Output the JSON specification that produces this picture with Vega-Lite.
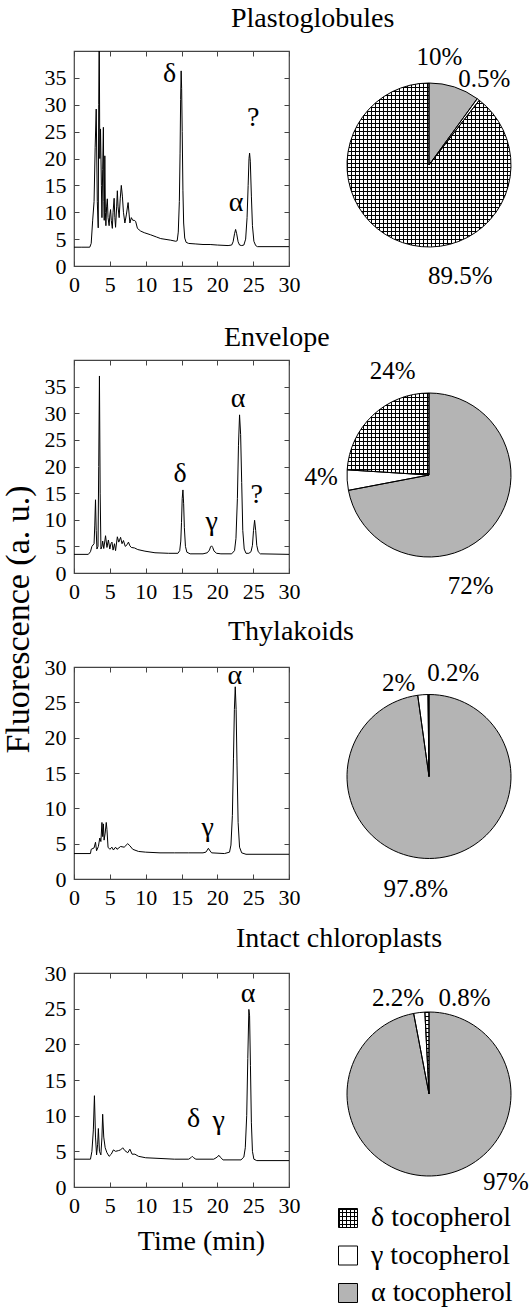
{
"$schema": "https://vega.github.io/schema/vega-lite/v6.json",
"padding": {"left": 0, "top": 3, "right": 0, "bottom": 0},
"background": "white",
"config": {
  "font": "Liberation Serif",
  "title": {"fontSize": 28, "fontWeight": "normal", "color": "#000", "anchor": "start", "frame": "group", "baseline": "alphabetic", "font": "Liberation Serif"},
  "axis": {"domain": false, "grid": false, "tickSize": -5, "tickColor": "#444", "tickWidth": 1, "labelFontSize": 22, "labelFont": "Liberation Serif", "titleFont": "Liberation Serif", "labelColor": "#000", "labelPadding": 13, "labelFlush": false, "labelOverlap": false, "titleFontWeight": "normal", "titleColor": "#000"},
  "text": {"color": "#000", "font": "Liberation Serif"}
},
"columns": 2,
"spacing": {"row": 94, "column": 58},
"bounds": "flush",
"concat": [
 {
  "width": 215, "height": 215,
  "title": {"text": "Plastoglobules", "dx": 157, "offset": 18},
  "view": {"stroke": "#444", "strokeWidth": 1.2},
  "layer": [
   {"data": {"values": [{"t":0,"v":3.5},{"t":1,"v":3.5},{"t":2.2,"v":3.5},{"t":2.4,"v":4.2},{"t":2.6,"v":8.4},{"t":2.8,"v":12},{"t":2.95,"v":22},{"t":3.1,"v":29.2},{"t":3.25,"v":12},{"t":3.38,"v":7.1},{"t":3.45,"v":30},{"t":3.52,"v":45},{"t":3.6,"v":20},{"t":3.7,"v":25.5},{"t":3.82,"v":15},{"t":3.9,"v":9},{"t":4,"v":18},{"t":4.1,"v":25.8},{"t":4.17,"v":12},{"t":4.22,"v":8.5},{"t":4.3,"v":20.5},{"t":4.38,"v":10},{"t":4.45,"v":7.5},{"t":4.55,"v":11},{"t":4.65,"v":12.5},{"t":4.75,"v":9},{"t":4.9,"v":7.5},{"t":5,"v":9.5},{"t":5.1,"v":10.5},{"t":5.2,"v":8.5},{"t":5.35,"v":7},{"t":5.45,"v":10},{"t":5.6,"v":12.6},{"t":5.7,"v":9},{"t":5.8,"v":7.2},{"t":5.95,"v":11},{"t":6.05,"v":14},{"t":6.15,"v":11},{"t":6.3,"v":9},{"t":6.45,"v":12.5},{"t":6.6,"v":15},{"t":6.75,"v":13},{"t":6.9,"v":10},{"t":7.1,"v":8},{"t":7.3,"v":9.5},{"t":7.55,"v":11.8},{"t":7.7,"v":9.5},{"t":7.8,"v":8},{"t":8,"v":9},{"t":8.2,"v":8.5},{"t":8.4,"v":8.5},{"t":8.6,"v":8.3},{"t":8.85,"v":7},{"t":9.3,"v":6.5},{"t":9.8,"v":6.2},{"t":10.7,"v":5.8},{"t":11.5,"v":5.4},{"t":12.1,"v":5.1},{"t":13.5,"v":4.8},{"t":14.2,"v":4.6},{"t":14.4,"v":4.7},{"t":14.55,"v":6.3},{"t":14.7,"v":12},{"t":14.8,"v":21},{"t":14.88,"v":31},{"t":14.95,"v":36.3},{"t":15.02,"v":33},{"t":15.1,"v":25},{"t":15.2,"v":14},{"t":15.3,"v":8},{"t":15.45,"v":5.2},{"t":15.65,"v":4.4},{"t":16,"v":4.2},{"t":17,"v":4.1},{"t":18,"v":4},{"t":19,"v":4},{"t":20,"v":3.9},{"t":21.5,"v":3.8},{"t":22,"v":3.9},{"t":22.2,"v":4.5},{"t":22.4,"v":6},{"t":22.55,"v":6.8},{"t":22.7,"v":6},{"t":22.9,"v":4.5},{"t":23.1,"v":3.9},{"t":23.4,"v":3.8},{"t":23.7,"v":3.9},{"t":23.95,"v":5},{"t":24.15,"v":9},{"t":24.3,"v":15},{"t":24.42,"v":20},{"t":24.5,"v":21},{"t":24.6,"v":19.5},{"t":24.75,"v":13},{"t":24.9,"v":7.5},{"t":25.1,"v":4.6},{"t":25.35,"v":3.8},{"t":25.6,"v":3.6},{"t":30,"v":3.6}]},
    "mark": {"type": "line", "color": "#000", "strokeWidth": 1, "clip": true},
    "encoding": {
     "x": {"field": "t", "type": "quantitative", "scale": {"domain": [0, 30], "nice": false, "zero": false}, "axis": {"values": [0,5,10,15,20,25,30], "title": null}},
     "y": {"field": "v", "type": "quantitative", "scale": {"domain": [0, 40], "nice": false, "zero": false}, "axis": {"values": [0,5,10,15,20,25,30,35], "title": null}}
    }},
   {"data": {"values": [{"t":13.35,"v":35.7,"g":"δ"},{"t":22.6,"v":11.8,"g":"α"},{"t":25.0,"v":27.5,"g":"?"}]},
    "mark": {"type": "text", "fontSize": 28, "baseline": "middle", "align": "center"},
    "encoding": {"x": {"field": "t", "type": "quantitative", "axis": null}, "y": {"field": "v", "type": "quantitative", "axis": null}, "text": {"field": "g"}}},
   {"data": {"values": [{"t":13.35,"v":35.7}]},
    "mark": {"type": "point", "opacity": 0},
    "encoding": {"x": {"field": "t", "type": "quantitative", "axis": {"orient": "top", "labels": false, "values": [0,5,10,15,20,25,30], "title": null}}, "y": {"field": "v", "type": "quantitative", "axis": {"orient": "right", "labels": false, "values": [0,5,10,15,20,25,30,35], "title": null}}}}
  ],
  "resolve": {"axis": {"x": "independent", "y": "independent"}}
 },
 {
  "width": 164, "height": 215,
  "view": {"stroke": null},
  "data": {"values": [{"type":"α","k":1,"pct":10,"label":"10%"},{"type":"γ","k":2,"pct":0.5,"label":"0.5%"},{"type":"δ","k":3,"pct":89.5,"label":"89.5%"}]},
  "encoding": {"theta": {"field": "pct", "type": "quantitative", "stack": true, "scale": {"domain": [0, 100]}}, "order": {"field": "k", "type": "quantitative"}},
  "layer": [
   {"mark": {"type": "arc", "outerRadius": 82, "yOffset": 6.5},
    "encoding": {"fill": {"condition": [{"test": "datum.type === 'δ'", "value": {"gradient":"linear","x1":0,"y1":0,"x2":1,"y2":0,"stops":[{"offset":0,"color":"#000"},{"offset":0.0061,"color":"#000"},{"offset":0.0061,"color":"#fff"},{"offset":0.02439,"color":"#fff"},{"offset":0.02439,"color":"#000"},{"offset":0.03049,"color":"#000"},{"offset":0.03049,"color":"#fff"},{"offset":0.04878,"color":"#fff"},{"offset":0.04878,"color":"#000"},{"offset":0.05488,"color":"#000"},{"offset":0.05488,"color":"#fff"},{"offset":0.07317,"color":"#fff"},{"offset":0.07317,"color":"#000"},{"offset":0.07927,"color":"#000"},{"offset":0.07927,"color":"#fff"},{"offset":0.09756,"color":"#fff"},{"offset":0.09756,"color":"#000"},{"offset":0.10366,"color":"#000"},{"offset":0.10366,"color":"#fff"},{"offset":0.12195,"color":"#fff"},{"offset":0.12195,"color":"#000"},{"offset":0.12805,"color":"#000"},{"offset":0.12805,"color":"#fff"},{"offset":0.14634,"color":"#fff"},{"offset":0.14634,"color":"#000"},{"offset":0.15244,"color":"#000"},{"offset":0.15244,"color":"#fff"},{"offset":0.17073,"color":"#fff"},{"offset":0.17073,"color":"#000"},{"offset":0.17683,"color":"#000"},{"offset":0.17683,"color":"#fff"},{"offset":0.19512,"color":"#fff"},{"offset":0.19512,"color":"#000"},{"offset":0.20122,"color":"#000"},{"offset":0.20122,"color":"#fff"},{"offset":0.21951,"color":"#fff"},{"offset":0.21951,"color":"#000"},{"offset":0.22561,"color":"#000"},{"offset":0.22561,"color":"#fff"},{"offset":0.2439,"color":"#fff"},{"offset":0.2439,"color":"#000"},{"offset":0.25,"color":"#000"},{"offset":0.25,"color":"#fff"},{"offset":0.26829,"color":"#fff"},{"offset":0.26829,"color":"#000"},{"offset":0.27439,"color":"#000"},{"offset":0.27439,"color":"#fff"},{"offset":0.29268,"color":"#fff"},{"offset":0.29268,"color":"#000"},{"offset":0.29878,"color":"#000"},{"offset":0.29878,"color":"#fff"},{"offset":0.31707,"color":"#fff"},{"offset":0.31707,"color":"#000"},{"offset":0.32317,"color":"#000"},{"offset":0.32317,"color":"#fff"},{"offset":0.34146,"color":"#fff"},{"offset":0.34146,"color":"#000"},{"offset":0.34756,"color":"#000"},{"offset":0.34756,"color":"#fff"},{"offset":0.36585,"color":"#fff"},{"offset":0.36585,"color":"#000"},{"offset":0.37195,"color":"#000"},{"offset":0.37195,"color":"#fff"},{"offset":0.39024,"color":"#fff"},{"offset":0.39024,"color":"#000"},{"offset":0.39634,"color":"#000"},{"offset":0.39634,"color":"#fff"},{"offset":0.41463,"color":"#fff"},{"offset":0.41463,"color":"#000"},{"offset":0.42073,"color":"#000"},{"offset":0.42073,"color":"#fff"},{"offset":0.43902,"color":"#fff"},{"offset":0.43902,"color":"#000"},{"offset":0.44512,"color":"#000"},{"offset":0.44512,"color":"#fff"},{"offset":0.46341,"color":"#fff"},{"offset":0.46341,"color":"#000"},{"offset":0.46951,"color":"#000"},{"offset":0.46951,"color":"#fff"},{"offset":0.4878,"color":"#fff"},{"offset":0.4878,"color":"#000"},{"offset":0.4939,"color":"#000"},{"offset":0.4939,"color":"#fff"},{"offset":0.5122,"color":"#fff"},{"offset":0.5122,"color":"#000"},{"offset":0.5183,"color":"#000"},{"offset":0.5183,"color":"#fff"},{"offset":0.53659,"color":"#fff"},{"offset":0.53659,"color":"#000"},{"offset":0.54268,"color":"#000"},{"offset":0.54268,"color":"#fff"},{"offset":0.56098,"color":"#fff"},{"offset":0.56098,"color":"#000"},{"offset":0.56707,"color":"#000"},{"offset":0.56707,"color":"#fff"},{"offset":0.58537,"color":"#fff"},{"offset":0.58537,"color":"#000"},{"offset":0.59146,"color":"#000"},{"offset":0.59146,"color":"#fff"},{"offset":0.60976,"color":"#fff"},{"offset":0.60976,"color":"#000"},{"offset":0.61585,"color":"#000"},{"offset":0.61585,"color":"#fff"},{"offset":0.63415,"color":"#fff"},{"offset":0.63415,"color":"#000"},{"offset":0.64024,"color":"#000"},{"offset":0.64024,"color":"#fff"},{"offset":0.65854,"color":"#fff"},{"offset":0.65854,"color":"#000"},{"offset":0.66463,"color":"#000"},{"offset":0.66463,"color":"#fff"},{"offset":0.68293,"color":"#fff"},{"offset":0.68293,"color":"#000"},{"offset":0.68902,"color":"#000"},{"offset":0.68902,"color":"#fff"},{"offset":0.70732,"color":"#fff"},{"offset":0.70732,"color":"#000"},{"offset":0.71341,"color":"#000"},{"offset":0.71341,"color":"#fff"},{"offset":0.73171,"color":"#fff"},{"offset":0.73171,"color":"#000"},{"offset":0.7378,"color":"#000"},{"offset":0.7378,"color":"#fff"},{"offset":0.7561,"color":"#fff"},{"offset":0.7561,"color":"#000"},{"offset":0.7622,"color":"#000"},{"offset":0.7622,"color":"#fff"},{"offset":0.78049,"color":"#fff"},{"offset":0.78049,"color":"#000"},{"offset":0.78659,"color":"#000"},{"offset":0.78659,"color":"#fff"},{"offset":0.80488,"color":"#fff"},{"offset":0.80488,"color":"#000"},{"offset":0.81098,"color":"#000"},{"offset":0.81098,"color":"#fff"},{"offset":0.82927,"color":"#fff"},{"offset":0.82927,"color":"#000"},{"offset":0.83537,"color":"#000"},{"offset":0.83537,"color":"#fff"},{"offset":0.85366,"color":"#fff"},{"offset":0.85366,"color":"#000"},{"offset":0.85976,"color":"#000"},{"offset":0.85976,"color":"#fff"},{"offset":0.87805,"color":"#fff"},{"offset":0.87805,"color":"#000"},{"offset":0.88415,"color":"#000"},{"offset":0.88415,"color":"#fff"},{"offset":0.90244,"color":"#fff"},{"offset":0.90244,"color":"#000"},{"offset":0.90854,"color":"#000"},{"offset":0.90854,"color":"#fff"},{"offset":0.92683,"color":"#fff"},{"offset":0.92683,"color":"#000"},{"offset":0.93293,"color":"#000"},{"offset":0.93293,"color":"#fff"},{"offset":0.95122,"color":"#fff"},{"offset":0.95122,"color":"#000"},{"offset":0.95732,"color":"#000"},{"offset":0.95732,"color":"#fff"},{"offset":0.97561,"color":"#fff"},{"offset":0.97561,"color":"#000"},{"offset":0.98171,"color":"#000"},{"offset":0.98171,"color":"#fff"},{"offset":1,"color":"#fff"}]}}, {"test": "datum.type === 'γ'", "value": "#ffffff"}], "value": "#b4b4b4"}}},
   {"mark": {"type": "arc", "outerRadius": 82, "yOffset": 6.5, "stroke": "#000", "strokeWidth": 1},
    "encoding": {"fill": {"condition": {"test": "datum.type === 'δ'", "value": {"gradient":"linear","x1":0,"y1":0,"x2":0,"y2":1,"stops":[{"offset":0,"color":"#000"},{"offset":0.0061,"color":"#000"},{"offset":0.0061,"color":"transparent"},{"offset":0.02439,"color":"transparent"},{"offset":0.02439,"color":"#000"},{"offset":0.03049,"color":"#000"},{"offset":0.03049,"color":"transparent"},{"offset":0.04878,"color":"transparent"},{"offset":0.04878,"color":"#000"},{"offset":0.05488,"color":"#000"},{"offset":0.05488,"color":"transparent"},{"offset":0.07317,"color":"transparent"},{"offset":0.07317,"color":"#000"},{"offset":0.07927,"color":"#000"},{"offset":0.07927,"color":"transparent"},{"offset":0.09756,"color":"transparent"},{"offset":0.09756,"color":"#000"},{"offset":0.10366,"color":"#000"},{"offset":0.10366,"color":"transparent"},{"offset":0.12195,"color":"transparent"},{"offset":0.12195,"color":"#000"},{"offset":0.12805,"color":"#000"},{"offset":0.12805,"color":"transparent"},{"offset":0.14634,"color":"transparent"},{"offset":0.14634,"color":"#000"},{"offset":0.15244,"color":"#000"},{"offset":0.15244,"color":"transparent"},{"offset":0.17073,"color":"transparent"},{"offset":0.17073,"color":"#000"},{"offset":0.17683,"color":"#000"},{"offset":0.17683,"color":"transparent"},{"offset":0.19512,"color":"transparent"},{"offset":0.19512,"color":"#000"},{"offset":0.20122,"color":"#000"},{"offset":0.20122,"color":"transparent"},{"offset":0.21951,"color":"transparent"},{"offset":0.21951,"color":"#000"},{"offset":0.22561,"color":"#000"},{"offset":0.22561,"color":"transparent"},{"offset":0.2439,"color":"transparent"},{"offset":0.2439,"color":"#000"},{"offset":0.25,"color":"#000"},{"offset":0.25,"color":"transparent"},{"offset":0.26829,"color":"transparent"},{"offset":0.26829,"color":"#000"},{"offset":0.27439,"color":"#000"},{"offset":0.27439,"color":"transparent"},{"offset":0.29268,"color":"transparent"},{"offset":0.29268,"color":"#000"},{"offset":0.29878,"color":"#000"},{"offset":0.29878,"color":"transparent"},{"offset":0.31707,"color":"transparent"},{"offset":0.31707,"color":"#000"},{"offset":0.32317,"color":"#000"},{"offset":0.32317,"color":"transparent"},{"offset":0.34146,"color":"transparent"},{"offset":0.34146,"color":"#000"},{"offset":0.34756,"color":"#000"},{"offset":0.34756,"color":"transparent"},{"offset":0.36585,"color":"transparent"},{"offset":0.36585,"color":"#000"},{"offset":0.37195,"color":"#000"},{"offset":0.37195,"color":"transparent"},{"offset":0.39024,"color":"transparent"},{"offset":0.39024,"color":"#000"},{"offset":0.39634,"color":"#000"},{"offset":0.39634,"color":"transparent"},{"offset":0.41463,"color":"transparent"},{"offset":0.41463,"color":"#000"},{"offset":0.42073,"color":"#000"},{"offset":0.42073,"color":"transparent"},{"offset":0.43902,"color":"transparent"},{"offset":0.43902,"color":"#000"},{"offset":0.44512,"color":"#000"},{"offset":0.44512,"color":"transparent"},{"offset":0.46341,"color":"transparent"},{"offset":0.46341,"color":"#000"},{"offset":0.46951,"color":"#000"},{"offset":0.46951,"color":"transparent"},{"offset":0.4878,"color":"transparent"},{"offset":0.4878,"color":"#000"},{"offset":0.4939,"color":"#000"},{"offset":0.4939,"color":"transparent"},{"offset":0.5122,"color":"transparent"},{"offset":0.5122,"color":"#000"},{"offset":0.5183,"color":"#000"},{"offset":0.5183,"color":"transparent"},{"offset":0.53659,"color":"transparent"},{"offset":0.53659,"color":"#000"},{"offset":0.54268,"color":"#000"},{"offset":0.54268,"color":"transparent"},{"offset":0.56098,"color":"transparent"},{"offset":0.56098,"color":"#000"},{"offset":0.56707,"color":"#000"},{"offset":0.56707,"color":"transparent"},{"offset":0.58537,"color":"transparent"},{"offset":0.58537,"color":"#000"},{"offset":0.59146,"color":"#000"},{"offset":0.59146,"color":"transparent"},{"offset":0.60976,"color":"transparent"},{"offset":0.60976,"color":"#000"},{"offset":0.61585,"color":"#000"},{"offset":0.61585,"color":"transparent"},{"offset":0.63415,"color":"transparent"},{"offset":0.63415,"color":"#000"},{"offset":0.64024,"color":"#000"},{"offset":0.64024,"color":"transparent"},{"offset":0.65854,"color":"transparent"},{"offset":0.65854,"color":"#000"},{"offset":0.66463,"color":"#000"},{"offset":0.66463,"color":"transparent"},{"offset":0.68293,"color":"transparent"},{"offset":0.68293,"color":"#000"},{"offset":0.68902,"color":"#000"},{"offset":0.68902,"color":"transparent"},{"offset":0.70732,"color":"transparent"},{"offset":0.70732,"color":"#000"},{"offset":0.71341,"color":"#000"},{"offset":0.71341,"color":"transparent"},{"offset":0.73171,"color":"transparent"},{"offset":0.73171,"color":"#000"},{"offset":0.7378,"color":"#000"},{"offset":0.7378,"color":"transparent"},{"offset":0.7561,"color":"transparent"},{"offset":0.7561,"color":"#000"},{"offset":0.7622,"color":"#000"},{"offset":0.7622,"color":"transparent"},{"offset":0.78049,"color":"transparent"},{"offset":0.78049,"color":"#000"},{"offset":0.78659,"color":"#000"},{"offset":0.78659,"color":"transparent"},{"offset":0.80488,"color":"transparent"},{"offset":0.80488,"color":"#000"},{"offset":0.81098,"color":"#000"},{"offset":0.81098,"color":"transparent"},{"offset":0.82927,"color":"transparent"},{"offset":0.82927,"color":"#000"},{"offset":0.83537,"color":"#000"},{"offset":0.83537,"color":"transparent"},{"offset":0.85366,"color":"transparent"},{"offset":0.85366,"color":"#000"},{"offset":0.85976,"color":"#000"},{"offset":0.85976,"color":"transparent"},{"offset":0.87805,"color":"transparent"},{"offset":0.87805,"color":"#000"},{"offset":0.88415,"color":"#000"},{"offset":0.88415,"color":"transparent"},{"offset":0.90244,"color":"transparent"},{"offset":0.90244,"color":"#000"},{"offset":0.90854,"color":"#000"},{"offset":0.90854,"color":"transparent"},{"offset":0.92683,"color":"transparent"},{"offset":0.92683,"color":"#000"},{"offset":0.93293,"color":"#000"},{"offset":0.93293,"color":"transparent"},{"offset":0.95122,"color":"transparent"},{"offset":0.95122,"color":"#000"},{"offset":0.95732,"color":"#000"},{"offset":0.95732,"color":"transparent"},{"offset":0.97561,"color":"transparent"},{"offset":0.97561,"color":"#000"},{"offset":0.98171,"color":"#000"},{"offset":0.98171,"color":"transparent"},{"offset":1,"color":"transparent"}]}}, "value": "transparent"}}},
   {"mark": {"type": "text", "radius": 108, "dx": -23, "dy": 1.5, "fontSize": 25, "baseline": "middle", "align": "center"}, "encoding": {"text": {"condition": {"test": "datum.type === 'α'", "field": "label"}, "value": ""}}},
   {"mark": {"type": "text", "radius": 102, "dx": -6, "dy": 2.5, "fontSize": 25, "baseline": "middle", "align": "center"}, "encoding": {"text": {"condition": {"test": "datum.type === 'γ'", "field": "label"}, "value": ""}}},
   {"mark": {"type": "text", "radius": 113, "dx": 68, "dy": 10.5, "fontSize": 25, "baseline": "middle", "align": "center"}, "encoding": {"text": {"condition": {"test": "datum.type === 'δ'", "field": "label"}, "value": ""}}}
  ]
 },
 {
  "width": 215, "height": 213,
  "title": {"text": "Envelope", "dx": 150, "offset": 8},
  "view": {"stroke": "#444", "strokeWidth": 1.2},
  "layer": [
   {"data": {"values": [{"t":0,"v":3.5},{"t":2,"v":3.5},{"t":2.3,"v":4},{"t":2.5,"v":5},{"t":2.8,"v":5.5},{"t":2.9,"v":9},{"t":3,"v":13.75},{"t":3.1,"v":8},{"t":3.2,"v":4.5},{"t":3.35,"v":5},{"t":3.45,"v":20},{"t":3.55,"v":37},{"t":3.65,"v":15},{"t":3.76,"v":4.5},{"t":3.9,"v":5},{"t":4,"v":6},{"t":4.15,"v":4.6},{"t":4.3,"v":6},{"t":4.4,"v":7},{"t":4.6,"v":4.8},{"t":4.8,"v":6.2},{"t":5,"v":4.5},{"t":5.15,"v":5.5},{"t":5.3,"v":5.8},{"t":5.45,"v":4.3},{"t":5.65,"v":5.5},{"t":5.8,"v":4.2},{"t":6.05,"v":6.8},{"t":6.25,"v":5.8},{"t":6.5,"v":6.7},{"t":6.7,"v":5.5},{"t":6.9,"v":6.1},{"t":7.15,"v":5},{"t":7.4,"v":5.3},{"t":7.6,"v":5.8},{"t":7.8,"v":5.1},{"t":8,"v":4.8},{"t":8.45,"v":4.7},{"t":8.9,"v":4.4},{"t":9.9,"v":4.1},{"t":11.3,"v":3.8},{"t":13.2,"v":3.7},{"t":14.5,"v":3.7},{"t":14.75,"v":4.2},{"t":14.9,"v":6},{"t":15,"v":9.5},{"t":15.1,"v":14},{"t":15.2,"v":15.6},{"t":15.3,"v":13},{"t":15.4,"v":8.5},{"t":15.55,"v":5},{"t":15.75,"v":3.9},{"t":16.2,"v":3.6},{"t":18,"v":3.6},{"t":18.6,"v":3.8},{"t":18.9,"v":4.3},{"t":19.05,"v":4.9},{"t":19.2,"v":5.1},{"t":19.35,"v":4.8},{"t":19.55,"v":4.1},{"t":19.9,"v":3.7},{"t":20.5,"v":3.6},{"t":22,"v":3.6},{"t":22.4,"v":4.2},{"t":22.6,"v":6.5},{"t":22.8,"v":14},{"t":22.95,"v":24},{"t":23.1,"v":29.7},{"t":23.25,"v":26},{"t":23.4,"v":17},{"t":23.55,"v":8},{"t":23.75,"v":4.5},{"t":24,"v":3.7},{"t":24.4,"v":3.7},{"t":24.7,"v":4},{"t":24.9,"v":5.2},{"t":25.05,"v":8},{"t":25.2,"v":9.9},{"t":25.35,"v":8},{"t":25.5,"v":5.2},{"t":25.7,"v":4},{"t":26,"v":3.6},{"t":30,"v":3.5}]},
    "mark": {"type": "line", "color": "#000", "strokeWidth": 1, "clip": true},
    "encoding": {
     "x": {"field": "t", "type": "quantitative", "scale": {"domain": [0, 30], "nice": false, "zero": false}, "axis": {"values": [0,5,10,15,20,25,30], "title": null}},
     "y": {"field": "v", "type": "quantitative", "scale": {"domain": [0, 40], "nice": false, "zero": false}, "axis": {"values": [0,5,10,15,20,25,30,35], "title": "Fluorescence (a. u.)", "titleFontSize": 34, "titleX": -56, "titleY": 259, "titleAngle": -90, "titleAlign": "center", "titleBaseline": "middle"}}
    }},
   {"data": {"values": [{"t":22.9,"v":32.7,"g":"α"},{"t":14.8,"v":18.6,"g":"δ"},{"t":19.2,"v":9.6,"g":"γ"},{"t":25.5,"v":14.7,"g":"?"}]},
    "mark": {"type": "text", "fontSize": 28, "baseline": "middle", "align": "center"},
    "encoding": {"x": {"field": "t", "type": "quantitative", "axis": null}, "y": {"field": "v", "type": "quantitative", "axis": null}, "text": {"field": "g"}}},
   {"data": {"values": [{"t":22.9,"v":32.7}]},
    "mark": {"type": "point", "opacity": 0},
    "encoding": {"x": {"field": "t", "type": "quantitative", "axis": {"orient": "top", "labels": false, "values": [0,5,10,15,20,25,30], "title": null}}, "y": {"field": "v", "type": "quantitative", "axis": {"orient": "right", "labels": false, "values": [0,5,10,15,20,25,30,35], "title": null}}}}
  ],
  "resolve": {"axis": {"x": "independent", "y": "independent"}}
 },
 {
  "width": 164, "height": 213,
  "view": {"stroke": null},
  "data": {"values": [{"type":"α","k":1,"pct":72,"label":"72%"},{"type":"γ","k":2,"pct":4,"label":"4%"},{"type":"δ","k":3,"pct":24,"label":"24%"}]},
  "encoding": {"theta": {"field": "pct", "type": "quantitative", "stack": true, "scale": {"domain": [0, 100]}}, "order": {"field": "k", "type": "quantitative"}},
  "layer": [
   {"mark": {"type": "arc", "outerRadius": 82, "yOffset": 8.5},
    "encoding": {"fill": {"condition": [{"test": "datum.type === 'δ'", "value": {"gradient":"linear","x1":0,"y1":0,"x2":1,"y2":0,"stops":[{"offset":0,"color":"#000"},{"offset":0.0122,"color":"#000"},{"offset":0.0122,"color":"#fff"},{"offset":0.04878,"color":"#fff"},{"offset":0.04878,"color":"#000"},{"offset":0.06098,"color":"#000"},{"offset":0.06098,"color":"#fff"},{"offset":0.09756,"color":"#fff"},{"offset":0.09756,"color":"#000"},{"offset":0.10976,"color":"#000"},{"offset":0.10976,"color":"#fff"},{"offset":0.14634,"color":"#fff"},{"offset":0.14634,"color":"#000"},{"offset":0.15854,"color":"#000"},{"offset":0.15854,"color":"#fff"},{"offset":0.19512,"color":"#fff"},{"offset":0.19512,"color":"#000"},{"offset":0.20732,"color":"#000"},{"offset":0.20732,"color":"#fff"},{"offset":0.2439,"color":"#fff"},{"offset":0.2439,"color":"#000"},{"offset":0.2561,"color":"#000"},{"offset":0.2561,"color":"#fff"},{"offset":0.29268,"color":"#fff"},{"offset":0.29268,"color":"#000"},{"offset":0.30488,"color":"#000"},{"offset":0.30488,"color":"#fff"},{"offset":0.34146,"color":"#fff"},{"offset":0.34146,"color":"#000"},{"offset":0.35366,"color":"#000"},{"offset":0.35366,"color":"#fff"},{"offset":0.39024,"color":"#fff"},{"offset":0.39024,"color":"#000"},{"offset":0.40244,"color":"#000"},{"offset":0.40244,"color":"#fff"},{"offset":0.43902,"color":"#fff"},{"offset":0.43902,"color":"#000"},{"offset":0.45122,"color":"#000"},{"offset":0.45122,"color":"#fff"},{"offset":0.4878,"color":"#fff"},{"offset":0.4878,"color":"#000"},{"offset":0.5,"color":"#000"},{"offset":0.5,"color":"#fff"},{"offset":0.53659,"color":"#fff"},{"offset":0.53659,"color":"#000"},{"offset":0.54878,"color":"#000"},{"offset":0.54878,"color":"#fff"},{"offset":0.58537,"color":"#fff"},{"offset":0.58537,"color":"#000"},{"offset":0.59756,"color":"#000"},{"offset":0.59756,"color":"#fff"},{"offset":0.63415,"color":"#fff"},{"offset":0.63415,"color":"#000"},{"offset":0.64634,"color":"#000"},{"offset":0.64634,"color":"#fff"},{"offset":0.68293,"color":"#fff"},{"offset":0.68293,"color":"#000"},{"offset":0.69512,"color":"#000"},{"offset":0.69512,"color":"#fff"},{"offset":0.73171,"color":"#fff"},{"offset":0.73171,"color":"#000"},{"offset":0.7439,"color":"#000"},{"offset":0.7439,"color":"#fff"},{"offset":0.78049,"color":"#fff"},{"offset":0.78049,"color":"#000"},{"offset":0.79268,"color":"#000"},{"offset":0.79268,"color":"#fff"},{"offset":0.82927,"color":"#fff"},{"offset":0.82927,"color":"#000"},{"offset":0.84146,"color":"#000"},{"offset":0.84146,"color":"#fff"},{"offset":0.87805,"color":"#fff"},{"offset":0.87805,"color":"#000"},{"offset":0.89024,"color":"#000"},{"offset":0.89024,"color":"#fff"},{"offset":0.92683,"color":"#fff"},{"offset":0.92683,"color":"#000"},{"offset":0.93902,"color":"#000"},{"offset":0.93902,"color":"#fff"},{"offset":0.97561,"color":"#fff"},{"offset":0.97561,"color":"#000"},{"offset":0.9878,"color":"#000"},{"offset":0.9878,"color":"#fff"},{"offset":1,"color":"#fff"}]}}, {"test": "datum.type === 'γ'", "value": "#ffffff"}], "value": "#b4b4b4"}}},
   {"mark": {"type": "arc", "outerRadius": 82, "yOffset": 8.5, "stroke": "#000", "strokeWidth": 1},
    "encoding": {"fill": {"condition": {"test": "datum.type === 'δ'", "value": {"gradient":"linear","x1":0,"y1":0,"x2":0,"y2":1,"stops":[{"offset":0,"color":"#000"},{"offset":0.0122,"color":"#000"},{"offset":0.0122,"color":"transparent"},{"offset":0.04878,"color":"transparent"},{"offset":0.04878,"color":"#000"},{"offset":0.06098,"color":"#000"},{"offset":0.06098,"color":"transparent"},{"offset":0.09756,"color":"transparent"},{"offset":0.09756,"color":"#000"},{"offset":0.10976,"color":"#000"},{"offset":0.10976,"color":"transparent"},{"offset":0.14634,"color":"transparent"},{"offset":0.14634,"color":"#000"},{"offset":0.15854,"color":"#000"},{"offset":0.15854,"color":"transparent"},{"offset":0.19512,"color":"transparent"},{"offset":0.19512,"color":"#000"},{"offset":0.20732,"color":"#000"},{"offset":0.20732,"color":"transparent"},{"offset":0.2439,"color":"transparent"},{"offset":0.2439,"color":"#000"},{"offset":0.2561,"color":"#000"},{"offset":0.2561,"color":"transparent"},{"offset":0.29268,"color":"transparent"},{"offset":0.29268,"color":"#000"},{"offset":0.30488,"color":"#000"},{"offset":0.30488,"color":"transparent"},{"offset":0.34146,"color":"transparent"},{"offset":0.34146,"color":"#000"},{"offset":0.35366,"color":"#000"},{"offset":0.35366,"color":"transparent"},{"offset":0.39024,"color":"transparent"},{"offset":0.39024,"color":"#000"},{"offset":0.40244,"color":"#000"},{"offset":0.40244,"color":"transparent"},{"offset":0.43902,"color":"transparent"},{"offset":0.43902,"color":"#000"},{"offset":0.45122,"color":"#000"},{"offset":0.45122,"color":"transparent"},{"offset":0.4878,"color":"transparent"},{"offset":0.4878,"color":"#000"},{"offset":0.5,"color":"#000"},{"offset":0.5,"color":"transparent"},{"offset":0.53659,"color":"transparent"},{"offset":0.53659,"color":"#000"},{"offset":0.54878,"color":"#000"},{"offset":0.54878,"color":"transparent"},{"offset":0.58537,"color":"transparent"},{"offset":0.58537,"color":"#000"},{"offset":0.59756,"color":"#000"},{"offset":0.59756,"color":"transparent"},{"offset":0.63415,"color":"transparent"},{"offset":0.63415,"color":"#000"},{"offset":0.64634,"color":"#000"},{"offset":0.64634,"color":"transparent"},{"offset":0.68293,"color":"transparent"},{"offset":0.68293,"color":"#000"},{"offset":0.69512,"color":"#000"},{"offset":0.69512,"color":"transparent"},{"offset":0.73171,"color":"transparent"},{"offset":0.73171,"color":"#000"},{"offset":0.7439,"color":"#000"},{"offset":0.7439,"color":"transparent"},{"offset":0.78049,"color":"transparent"},{"offset":0.78049,"color":"#000"},{"offset":0.79268,"color":"#000"},{"offset":0.79268,"color":"transparent"},{"offset":0.82927,"color":"transparent"},{"offset":0.82927,"color":"#000"},{"offset":0.84146,"color":"#000"},{"offset":0.84146,"color":"transparent"},{"offset":0.87805,"color":"transparent"},{"offset":0.87805,"color":"#000"},{"offset":0.89024,"color":"#000"},{"offset":0.89024,"color":"transparent"},{"offset":0.92683,"color":"transparent"},{"offset":0.92683,"color":"#000"},{"offset":0.93902,"color":"#000"},{"offset":0.93902,"color":"transparent"},{"offset":0.97561,"color":"transparent"},{"offset":0.97561,"color":"#000"},{"offset":0.9878,"color":"#000"},{"offset":0.9878,"color":"transparent"},{"offset":1,"color":"transparent"}]}}, "value": "transparent"}}},
   {"mark": {"type": "text", "radius": 119, "dx": -50, "dy": 43.5, "fontSize": 25, "baseline": "middle", "align": "center"}, "encoding": {"text": {"condition": {"test": "datum.type === 'α'", "field": "label"}, "value": ""}}},
   {"mark": {"type": "text", "radius": 108, "dx": 0, "dy": 3.5, "fontSize": 25, "baseline": "middle", "align": "center"}, "encoding": {"text": {"condition": {"test": "datum.type === 'γ'", "field": "label"}, "value": ""}}},
   {"mark": {"type": "text", "radius": 110, "dx": 39, "dy": -15.5, "fontSize": 25, "baseline": "middle", "align": "center"}, "encoding": {"text": {"condition": {"test": "datum.type === 'δ'", "field": "label"}, "value": ""}}}
  ]
 },
 {
  "width": 215, "height": 212,
  "title": {"text": "Thylakoids", "dx": 154, "offset": 10},
  "view": {"stroke": "#444", "strokeWidth": 1.2},
  "layer": [
   {"data": {"values": [{"t":0,"v":3.6},{"t":2.3,"v":3.6},{"t":2.4,"v":4.2},{"t":2.8,"v":4.4},{"t":3,"v":5.2},{"t":3.15,"v":4},{"t":3.4,"v":4.6},{"t":3.6,"v":5.8},{"t":3.75,"v":5.3},{"t":3.9,"v":8},{"t":4,"v":6},{"t":4.1,"v":7.8},{"t":4.2,"v":5.5},{"t":4.35,"v":6.5},{"t":4.5,"v":8},{"t":4.6,"v":7},{"t":4.75,"v":4.5},{"t":5,"v":4.2},{"t":5.3,"v":4.5},{"t":5.5,"v":4.1},{"t":5.8,"v":4.5},{"t":6,"v":4.2},{"t":6.5,"v":4.6},{"t":7,"v":4.5},{"t":7.5,"v":5},{"t":7.8,"v":4.7},{"t":8.2,"v":4.2},{"t":9,"v":3.9},{"t":10,"v":3.8},{"t":12,"v":3.7},{"t":14,"v":3.7},{"t":16,"v":3.7},{"t":18,"v":3.7},{"t":18.4,"v":3.8},{"t":18.6,"v":4.1},{"t":18.75,"v":4.35},{"t":18.9,"v":4.1},{"t":19.2,"v":3.7},{"t":21,"v":3.6},{"t":21.7,"v":3.8},{"t":21.9,"v":4.8},{"t":22.1,"v":9},{"t":22.25,"v":17},{"t":22.38,"v":24},{"t":22.5,"v":27.2},{"t":22.62,"v":24},{"t":22.75,"v":16},{"t":22.9,"v":8},{"t":23.1,"v":4.5},{"t":23.4,"v":3.7},{"t":24,"v":3.5},{"t":30,"v":3.5}]},
    "mark": {"type": "line", "color": "#000", "strokeWidth": 1, "clip": true},
    "encoding": {
     "x": {"field": "t", "type": "quantitative", "scale": {"domain": [0, 30], "nice": false, "zero": false}, "axis": {"values": [0,5,10,15,20,25,30], "title": null}},
     "y": {"field": "v", "type": "quantitative", "scale": {"domain": [0, 30], "nice": false, "zero": false}, "axis": {"values": [0,5,10,15,20,25,30], "title": null}}
    }},
   {"data": {"values": [{"t":22.45,"v":28.7,"g":"α"},{"t":18.65,"v":7.2,"g":"γ"}]},
    "mark": {"type": "text", "fontSize": 28, "baseline": "middle", "align": "center"},
    "encoding": {"x": {"field": "t", "type": "quantitative", "axis": null}, "y": {"field": "v", "type": "quantitative", "axis": null}, "text": {"field": "g"}}},
   {"data": {"values": [{"t":22.45,"v":28.7}]},
    "mark": {"type": "point", "opacity": 0},
    "encoding": {"x": {"field": "t", "type": "quantitative", "axis": {"orient": "top", "labels": false, "values": [0,5,10,15,20,25,30], "title": null}}, "y": {"field": "v", "type": "quantitative", "axis": {"orient": "right", "labels": false, "values": [0,5,10,15,20,25,30], "title": null}}}}
  ],
  "resolve": {"axis": {"x": "independent", "y": "independent"}}
 },
 {
  "width": 164, "height": 212,
  "view": {"stroke": null},
  "data": {"values": [{"type":"α","k":1,"pct":97.8,"label":"97.8%"},{"type":"γ","k":2,"pct":2,"label":"2%"},{"type":"δ","k":3,"pct":0.2,"label":"0.2%"}]},
  "encoding": {"theta": {"field": "pct", "type": "quantitative", "stack": true, "scale": {"domain": [0, 100]}}, "order": {"field": "k", "type": "quantitative"}},
  "layer": [
   {"mark": {"type": "arc", "outerRadius": 82, "yOffset": 3.5},
    "encoding": {"fill": {"condition": [{"test": "datum.type === 'δ'", "value": "#000"}, {"test": "datum.type === 'γ'", "value": "#ffffff"}], "value": "#b4b4b4"}}},
   {"mark": {"type": "arc", "outerRadius": 82, "yOffset": 3.5, "stroke": "#000", "strokeWidth": 1, "fill": "transparent"}},
   {"mark": {"type": "text", "radius": 113, "dx": -21, "dy": 3.5, "fontSize": 25, "baseline": "middle", "align": "center"}, "encoding": {"text": {"condition": {"test": "datum.type === 'α'", "field": "label"}, "value": ""}}},
   {"mark": {"type": "text", "radius": 99, "dx": -23, "dy": 8.5, "fontSize": 25, "baseline": "middle", "align": "center"}, "encoding": {"text": {"condition": {"test": "datum.type === 'γ'", "field": "label"}, "value": ""}}},
   {"mark": {"type": "text", "radius": 104, "dx": 25, "dy": 3.5, "fontSize": 25, "baseline": "middle", "align": "center"}, "encoding": {"text": {"condition": {"test": "datum.type === 'δ'", "field": "label"}, "value": ""}}}
  ]
 },
 {
  "width": 215, "height": 214,
  "title": {"text": "Intact chloroplasts", "dx": 162, "offset": 9},
  "view": {"stroke": "#444", "strokeWidth": 1.2},
  "layer": [
   {"data": {"values": [{"t":0,"v":3.9},{"t":2.3,"v":3.9},{"t":2.5,"v":5},{"t":2.7,"v":8},{"t":2.85,"v":12.8},{"t":3,"v":7},{"t":3.15,"v":4.5},{"t":3.3,"v":6},{"t":3.4,"v":8.2},{"t":3.55,"v":5},{"t":3.75,"v":4.5},{"t":3.9,"v":7},{"t":4,"v":10.2},{"t":4.15,"v":7},{"t":4.35,"v":5.5},{"t":4.6,"v":4.8},{"t":4.9,"v":4.3},{"t":5.2,"v":4.6},{"t":5.5,"v":5.2},{"t":5.8,"v":5},{"t":6.2,"v":5.1},{"t":6.5,"v":5.2},{"t":6.8,"v":5.5},{"t":7.1,"v":5.1},{"t":7.5,"v":4.8},{"t":7.8,"v":5.3},{"t":8.1,"v":4.6},{"t":8.5,"v":4.6},{"t":9,"v":4.3},{"t":10,"v":4.1},{"t":12,"v":4},{"t":14,"v":3.9},{"t":16,"v":3.9},{"t":16.3,"v":4.1},{"t":16.5,"v":4.3},{"t":16.7,"v":4.1},{"t":17,"v":3.9},{"t":19.5,"v":3.9},{"t":20,"v":4.2},{"t":20.2,"v":4.45},{"t":20.4,"v":4.2},{"t":20.8,"v":3.8},{"t":23.3,"v":3.8},{"t":23.7,"v":4.2},{"t":23.9,"v":5.5},{"t":24.1,"v":10},{"t":24.25,"v":18},{"t":24.4,"v":24.9},{"t":24.5,"v":24},{"t":24.62,"v":17},{"t":24.75,"v":9},{"t":24.9,"v":5},{"t":25.1,"v":3.9},{"t":25.5,"v":3.7},{"t":30,"v":3.7}]},
    "mark": {"type": "line", "color": "#000", "strokeWidth": 1, "clip": true},
    "encoding": {
     "x": {"field": "t", "type": "quantitative", "scale": {"domain": [0, 30], "nice": false, "zero": false}, "axis": {"values": [0,5,10,15,20,25,30], "title": "Time (min)", "titleFontSize": 28, "titleX": 127, "titleY": 54, "titleAlign": "center", "titleBaseline": "middle", "titleAngle": 0}},
     "y": {"field": "v", "type": "quantitative", "scale": {"domain": [0, 30], "nice": false, "zero": false}, "axis": {"values": [0,5,10,15,20,25,30], "title": null}}
    }},
   {"data": {"values": [{"t":24.3,"v":27,"g":"α"},{"t":16.7,"v":9.5,"g":"δ"},{"t":20.2,"v":9.3,"g":"γ"}]},
    "mark": {"type": "text", "fontSize": 28, "baseline": "middle", "align": "center"},
    "encoding": {"x": {"field": "t", "type": "quantitative", "axis": null}, "y": {"field": "v", "type": "quantitative", "axis": null}, "text": {"field": "g"}}},
   {"data": {"values": [{"t":24.3,"v":27}]},
    "mark": {"type": "point", "opacity": 0},
    "encoding": {"x": {"field": "t", "type": "quantitative", "axis": {"orient": "top", "labels": false, "values": [0,5,10,15,20,25,30], "title": null}}, "y": {"field": "v", "type": "quantitative", "axis": {"orient": "right", "labels": false, "values": [0,5,10,15,20,25,30], "title": null}}}}
  ],
  "resolve": {"axis": {"x": "independent", "y": "independent"}}
 },
 {
  "width": 164, "height": 214,
  "view": {"stroke": null},
  "data": {"values": [{"type":"α","k":1,"pct":97,"label":"97%"},{"type":"γ","k":2,"pct":2.2,"label":"2.2%"},{"type":"δ","k":3,"pct":0.8,"label":"0.8%"}]},
  "encoding": {"theta": {"field": "pct", "type": "quantitative", "stack": true, "scale": {"domain": [0, 100]}}, "order": {"field": "k", "type": "quantitative"}},
  "layer": [
   {"mark": {"type": "arc", "outerRadius": 82, "yOffset": 14},
    "encoding": {"fill": {"condition": {"test": "datum.type === 'α'", "value": "#b4b4b4"}, "value": "#ffffff"}}},
   {"mark": {"type": "arc", "outerRadius": 82, "yOffset": 14, "stroke": "#000", "strokeWidth": 1},
    "encoding": {"fill": {"condition": {"test": "datum.type === 'δ'", "value": {"gradient":"linear","x1":0,"y1":0,"x2":0,"y2":1,"stops":[{"offset":0,"color":"#000"},{"offset":0.0122,"color":"#000"},{"offset":0.0122,"color":"transparent"},{"offset":0.04878,"color":"transparent"},{"offset":0.04878,"color":"#000"},{"offset":0.06098,"color":"#000"},{"offset":0.06098,"color":"transparent"},{"offset":0.09756,"color":"transparent"},{"offset":0.09756,"color":"#000"},{"offset":0.10976,"color":"#000"},{"offset":0.10976,"color":"transparent"},{"offset":0.14634,"color":"transparent"},{"offset":0.14634,"color":"#000"},{"offset":0.15854,"color":"#000"},{"offset":0.15854,"color":"transparent"},{"offset":0.19512,"color":"transparent"},{"offset":0.19512,"color":"#000"},{"offset":0.20732,"color":"#000"},{"offset":0.20732,"color":"transparent"},{"offset":0.2439,"color":"transparent"},{"offset":0.2439,"color":"#000"},{"offset":0.2561,"color":"#000"},{"offset":0.2561,"color":"transparent"},{"offset":0.29268,"color":"transparent"},{"offset":0.29268,"color":"#000"},{"offset":0.30488,"color":"#000"},{"offset":0.30488,"color":"transparent"},{"offset":0.34146,"color":"transparent"},{"offset":0.34146,"color":"#000"},{"offset":0.35366,"color":"#000"},{"offset":0.35366,"color":"transparent"},{"offset":0.39024,"color":"transparent"},{"offset":0.39024,"color":"#000"},{"offset":0.40244,"color":"#000"},{"offset":0.40244,"color":"transparent"},{"offset":0.43902,"color":"transparent"},{"offset":0.43902,"color":"#000"},{"offset":0.45122,"color":"#000"},{"offset":0.45122,"color":"transparent"},{"offset":0.4878,"color":"transparent"},{"offset":0.4878,"color":"#000"},{"offset":0.5,"color":"#000"},{"offset":0.5,"color":"transparent"},{"offset":0.53659,"color":"transparent"},{"offset":0.53659,"color":"#000"},{"offset":0.54878,"color":"#000"},{"offset":0.54878,"color":"transparent"},{"offset":0.58537,"color":"transparent"},{"offset":0.58537,"color":"#000"},{"offset":0.59756,"color":"#000"},{"offset":0.59756,"color":"transparent"},{"offset":0.63415,"color":"transparent"},{"offset":0.63415,"color":"#000"},{"offset":0.64634,"color":"#000"},{"offset":0.64634,"color":"transparent"},{"offset":0.68293,"color":"transparent"},{"offset":0.68293,"color":"#000"},{"offset":0.69512,"color":"#000"},{"offset":0.69512,"color":"transparent"},{"offset":0.73171,"color":"transparent"},{"offset":0.73171,"color":"#000"},{"offset":0.7439,"color":"#000"},{"offset":0.7439,"color":"transparent"},{"offset":0.78049,"color":"transparent"},{"offset":0.78049,"color":"#000"},{"offset":0.79268,"color":"#000"},{"offset":0.79268,"color":"transparent"},{"offset":0.82927,"color":"transparent"},{"offset":0.82927,"color":"#000"},{"offset":0.84146,"color":"#000"},{"offset":0.84146,"color":"transparent"},{"offset":0.87805,"color":"transparent"},{"offset":0.87805,"color":"#000"},{"offset":0.89024,"color":"#000"},{"offset":0.89024,"color":"transparent"},{"offset":0.92683,"color":"transparent"},{"offset":0.92683,"color":"#000"},{"offset":0.93902,"color":"#000"},{"offset":0.93902,"color":"transparent"},{"offset":0.97561,"color":"transparent"},{"offset":0.97561,"color":"#000"},{"offset":0.9878,"color":"#000"},{"offset":0.9878,"color":"transparent"},{"offset":1,"color":"transparent"}]}}, "value": "transparent"}}},
   {"mark": {"type": "text", "radius": 117, "dx": 66, "dy": -14, "fontSize": 25, "baseline": "middle", "align": "center"}, "encoding": {"text": {"condition": {"test": "datum.type === 'α'", "field": "label"}, "value": ""}}},
   {"mark": {"type": "text", "radius": 101, "dx": -19, "dy": 18, "fontSize": 25, "baseline": "middle", "align": "center"}, "encoding": {"text": {"condition": {"test": "datum.type === 'γ'", "field": "label"}, "value": ""}}},
   {"mark": {"type": "text", "radius": 102, "dx": 38, "dy": 20, "fontSize": 25, "baseline": "middle", "align": "center"}, "encoding": {"text": {"condition": {"test": "datum.type === 'δ'", "field": "label"}, "value": ""}}}
  ]
 },
 {
  "width": 215, "height": 75,
  "view": {"stroke": null},
  "data": {"values": [{"note": ""}]},
  "mark": {"type": "text"},
  "encoding": {"text": {"field": "note"}}
 },
 {
  "width": 2, "height": 75,
  "view": {"stroke": null},
  "data": {"values": [{"type":"δ","name":"δ tocopherol"},{"type":"γ","name":"γ tocopherol"},{"type":"α","name":"α tocopherol"}]},
  "encoding": {"y": {"field": "name", "type": "nominal", "sort": null, "scale": {"type": "point", "padding": 0}, "axis": null}},
  "layer": [
   {"mark": {"type": "square", "size": 361, "opacity": 1, "filled": true, "yOffset": -63},
    "encoding": {"fill": {"condition": [{"test": "datum.type === 'δ'", "value": {"gradient":"linear","x1":0,"y1":0,"x2":1,"y2":0,"stops":[{"offset":0,"color":"#000"},{"offset":0.06,"color":"#000"},{"offset":0.06,"color":"#fff"},{"offset":0.2,"color":"#fff"},{"offset":0.2,"color":"#000"},{"offset":0.26,"color":"#000"},{"offset":0.26,"color":"#fff"},{"offset":0.4,"color":"#fff"},{"offset":0.4,"color":"#000"},{"offset":0.46,"color":"#000"},{"offset":0.46,"color":"#fff"},{"offset":0.6,"color":"#fff"},{"offset":0.6,"color":"#000"},{"offset":0.66,"color":"#000"},{"offset":0.66,"color":"#fff"},{"offset":0.8,"color":"#fff"},{"offset":0.8,"color":"#000"},{"offset":0.86,"color":"#000"},{"offset":0.86,"color":"#fff"},{"offset":1,"color":"#fff"}]}}, {"test": "datum.type === 'γ'", "value": "#ffffff"}], "value": "#b4b4b4"}}},
   {"mark": {"type": "square", "size": 361, "opacity": 1, "filled": true, "stroke": "#000", "strokeWidth": 1, "yOffset": -63},
    "encoding": {"fill": {"condition": {"test": "datum.type === 'δ'", "value": {"gradient":"linear","x1":0,"y1":0,"x2":0,"y2":1,"stops":[{"offset":0,"color":"#000"},{"offset":0.06,"color":"#000"},{"offset":0.06,"color":"transparent"},{"offset":0.2,"color":"transparent"},{"offset":0.2,"color":"#000"},{"offset":0.26,"color":"#000"},{"offset":0.26,"color":"transparent"},{"offset":0.4,"color":"transparent"},{"offset":0.4,"color":"#000"},{"offset":0.46,"color":"#000"},{"offset":0.46,"color":"transparent"},{"offset":0.6,"color":"transparent"},{"offset":0.6,"color":"#000"},{"offset":0.66,"color":"#000"},{"offset":0.66,"color":"transparent"},{"offset":0.8,"color":"transparent"},{"offset":0.8,"color":"#000"},{"offset":0.86,"color":"#000"},{"offset":0.86,"color":"transparent"},{"offset":1,"color":"transparent"}]}}, "value": "transparent"}}},
   {"mark": {"type": "text", "align": "left", "baseline": "middle", "dx": 23, "fontSize": 28, "yOffset": -63}, "encoding": {"text": {"field": "name"}}}
  ]
 }
]
}
